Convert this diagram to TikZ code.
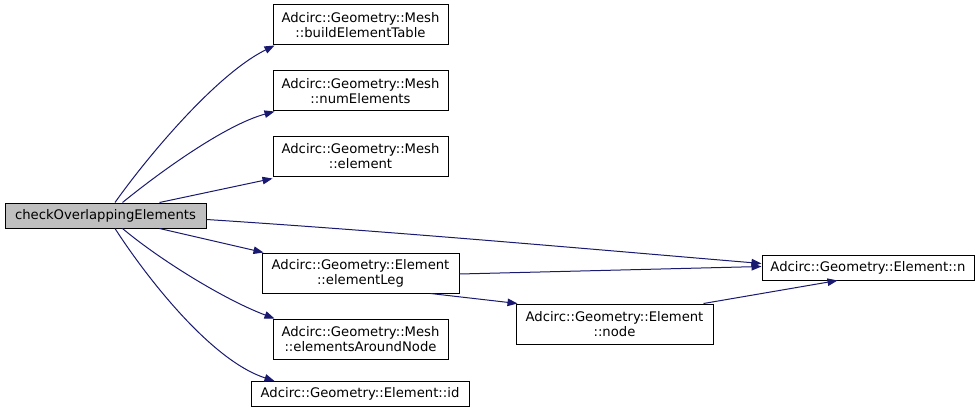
\documentclass[tikz,border=0pt]{standalone}
\usepackage{fontspec}
\setmainfont{DejaVu Sans}
\usetikzlibrary{arrows.meta,calc}
\definecolor{edgeblue}{RGB}{25,25,112}
\definecolor{mainfill}{RGB}{191,191,191}
\begin{document}
\begin{tikzpicture}[x=1pt,y=-1pt,
  fn/.style={draw=black, fill=white, line width=1pt, inner sep=0pt, align=center,
    font=\fontsize{13.2}{15}\selectfont},
  mainfn/.style={fn, fill=mainfill},
  edge/.style={draw=edgeblue, line width=1pt, -{Triangle[length=10pt,width=7.5pt]}, fill=none}]
\useasboundingbox (0,0) rectangle (979,417);
\node[mainfn, minimum width=201pt, minimum height=25pt] (main) at (105.5,215.5) {checkOverlappingElements};
\node[fn, minimum width=175pt, minimum height=40pt] (bET) at (360.5,25) {Adcirc::Geometry::Mesh\\::buildElementTable};
\node[fn, minimum width=175pt, minimum height=40pt] (numE) at (360.5,91) {Adcirc::Geometry::Mesh\\::numElements};
\node[fn, minimum width=175pt, minimum height=40pt] (elem) at (360.5,156) {Adcirc::Geometry::Mesh\\::element};
\node[fn, minimum width=197pt, minimum height=40pt] (eLeg) at (360.5,273) {Adcirc::Geometry::Element\\::elementLeg};
\node[fn, minimum width=175pt, minimum height=40pt] (eAN) at (360.5,339) {Adcirc::Geometry::Mesh\\::elementsAroundNode};
\node[fn, minimum width=218pt, minimum height=25pt] (id) at (360,394) {Adcirc::Geometry::Element::id};
\node[fn, minimum width=212pt, minimum height=25pt] (n) at (868,267.5) {Adcirc::Geometry::Element::n};
\node[fn, minimum width=197pt, minimum height=40pt] (node) at (614.5,324) {Adcirc::Geometry::Element\\::node};

\draw[edge] ([xshift=9.5pt]main.north) .. controls (145,160) and (215,75) .. ([xshift=2pt]bET.south west);
\draw[edge] ([xshift=17pt]main.north) .. controls (160,172) and (225,125) .. ([xshift=2pt]numE.south west);
\draw[edge] ([xshift=54pt]main.north) -- ([xshift=0pt,yshift=-2pt]elem.south west);
\draw[edge] ([yshift=-4pt]main.east) .. controls (400,232) and (600,250) .. ([yshift=4pt]n.west);
\draw[edge] ([xshift=54pt]main.south) -- ([xshift=2pt]eLeg.north west);
\draw[edge] ([xshift=17pt]main.south) .. controls (160,260) and (225,300) .. ([xshift=2pt]eAN.north west);
\draw[edge] ([xshift=9.5pt]main.south) .. controls (145,275) and (210,360) .. ([xshift=24pt]id.north west);
\draw[edge] ([yshift=-1pt]eLeg.east) -- ([yshift=1pt]n.west);
\draw[edge] ([xshift=-29pt]eLeg.south east) -- ([xshift=2pt]node.north west);
\draw[edge] ([xshift=-10pt]node.north east) -- ([xshift=76pt]n.south west);
\end{tikzpicture}
\end{document}
